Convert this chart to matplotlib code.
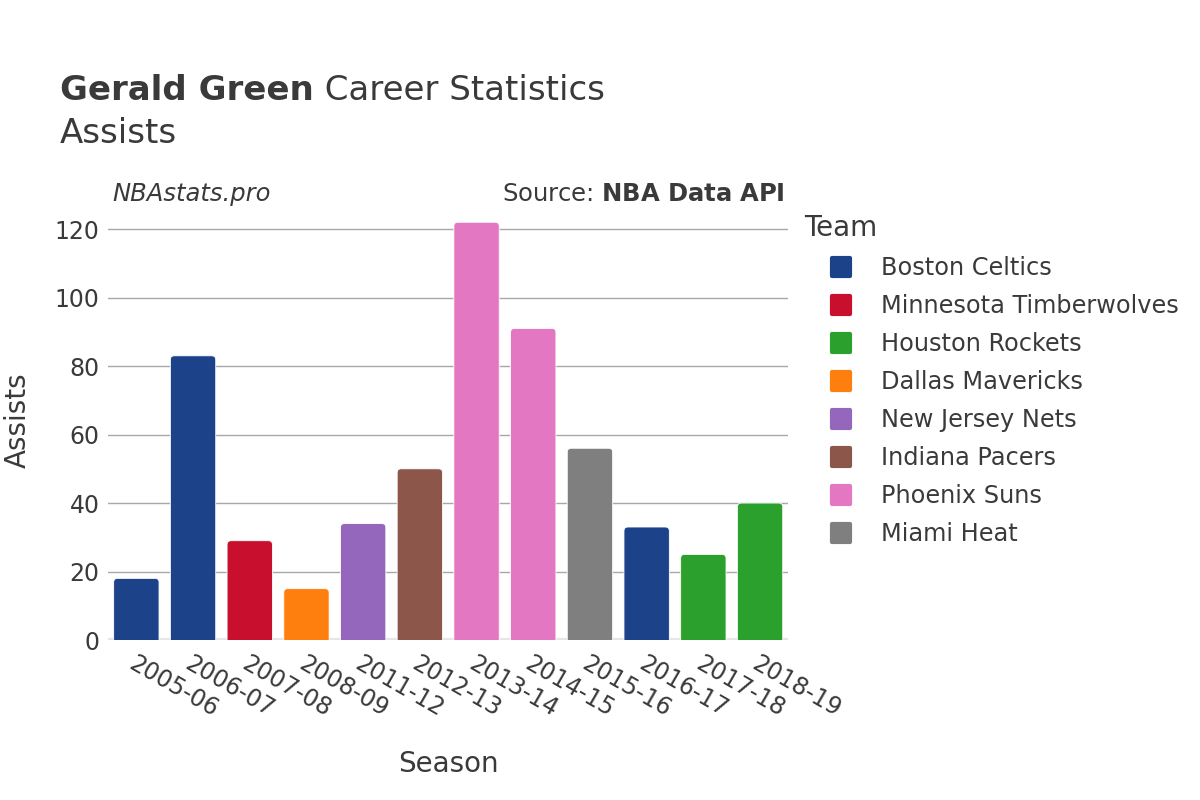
import matplotlib
matplotlib.use("Agg")
import matplotlib.pyplot as plt
from matplotlib.patches import FancyBboxPatch
from matplotlib.lines import Line2D
from matplotlib.markers import MarkerStyle

seasons = ["2005-06", "2006-07", "2007-08", "2008-09", "2011-12", "2012-13",
           "2013-14", "2014-15", "2015-16", "2016-17", "2017-18", "2018-19"]
assists = [18, 83, 29, 15, 34, 50, 122, 91, 56, 33, 25, 40]
teams = ["Boston Celtics", "Boston Celtics", "Minnesota Timberwolves", "Dallas Mavericks",
         "New Jersey Nets", "Indiana Pacers", "Phoenix Suns", "Phoenix Suns",
         "Miami Heat", "Boston Celtics", "Houston Rockets", "Houston Rockets"]
team_order = ["Boston Celtics", "Minnesota Timberwolves", "Houston Rockets", "Dallas Mavericks",
              "New Jersey Nets", "Indiana Pacers", "Phoenix Suns", "Miami Heat"]
team_colors = {
    "Boston Celtics": "#1c4289",
    "Minnesota Timberwolves": "#c8102e",
    "Houston Rockets": "#2ca02c",
    "Dallas Mavericks": "#ff7f0e",
    "New Jersey Nets": "#9467bd",
    "Indiana Pacers": "#8c564b",
    "Phoenix Suns": "#e377c2",
    "Miami Heat": "#7f7f7f",
}

plt.rcParams['font.family'] = ['DejaVu Sans']
text_color = "#3a3a3a"

fig = plt.figure(figsize=(12, 8), dpi=100)
ax = fig.add_axes([0.09, 0.2, 0.567, 0.535])

x = list(range(len(seasons)))
bars = ax.bar(x, assists, width=0.8, color=[team_colors[t] for t in teams], alpha=0)

ax.set_xlim(-0.5, len(seasons) - 0.5)
ax.set_ylim(0, 125)

# rounded bars built from the bar geometry (extended below zero and clipped by the axes)
for b, t in zip(bars, teams):
    r = 0.07
    p = FancyBboxPatch((b.get_x(), b.get_y() - 5), b.get_width(), b.get_height() + 5,
                       boxstyle=f"round,pad=0,rounding_size={r}",
                       mutation_aspect=16.5,
                       facecolor=team_colors[t], edgecolor="white", linewidth=0.6,
                       zorder=3)
    ax.add_patch(p)

ax.set_yticks([0, 20, 40, 60, 80, 100, 120])
ax.yaxis.grid(True, color="#a8a8a8", linewidth=1)
ax.set_axisbelow(True)
ax.axhline(0, color="#e6e6e6", linewidth=3, zorder=2)
for s in ax.spines.values():
    s.set_visible(False)
ax.tick_params(axis='both', length=0, labelsize=17, colors=text_color)
ax.tick_params(axis='y', pad=6)
ax.set_xticks(x)
ax.set_xticklabels(seasons, rotation=-30, ha='left', va='top', rotation_mode='anchor')
ax.tick_params(axis='x', pad=8)

ax.set_xlabel("Season", fontsize=20, color=text_color, labelpad=21)
fig.text(18 / 1200, 1 - 420 / 800, "Assists", fontsize=20, color=text_color,
         rotation=90, ha='center', va='center')

t1 = fig.text(0.05, 0.875, "Gerald Green", fontsize=24.5, fontweight='bold', color=text_color, va='baseline')
fig.canvas.draw()
bb = t1.get_window_extent()
fig.text(bb.x1 / fig.bbox.width, 0.875, " Career Statistics", fontsize=24.5, color=text_color, va='baseline')
fig.text(0.05, 0.821, "Assists", fontsize=24.5, color=text_color, va='baseline')

fig.text(0.094, 0.749, "NBAstats.pro", fontsize=17.5, style='italic', color=text_color, va='baseline')
fig.text(0.654, 0.749, r"Source: $\bf{NBA\ Data\ API}$", fontsize=17.5, color=text_color,
         va='baseline', ha='right')

handles = [Line2D([], [], linestyle='none',
                  marker=MarkerStyle('s', joinstyle='round'), markersize=13,
                  markerfacecolor=team_colors[t], markeredgecolor=team_colors[t],
                  markeredgewidth=3, label=t) for t in team_order]
leg = fig.legend(handles=handles, loc='upper left', bbox_to_anchor=(0.6705, 0.7325),
                 frameon=False, fontsize=17.3, title="Team", title_fontsize=20,
                 labelspacing=0.585, handletextpad=0.12, handlelength=3.05, borderaxespad=0,
                 borderpad=0)
leg._legend_box.align = "left"
for txt in leg.get_texts():
    txt.set_color(text_color)
leg.get_title().set_color(text_color)

fig.savefig("out.png", dpi=100)
